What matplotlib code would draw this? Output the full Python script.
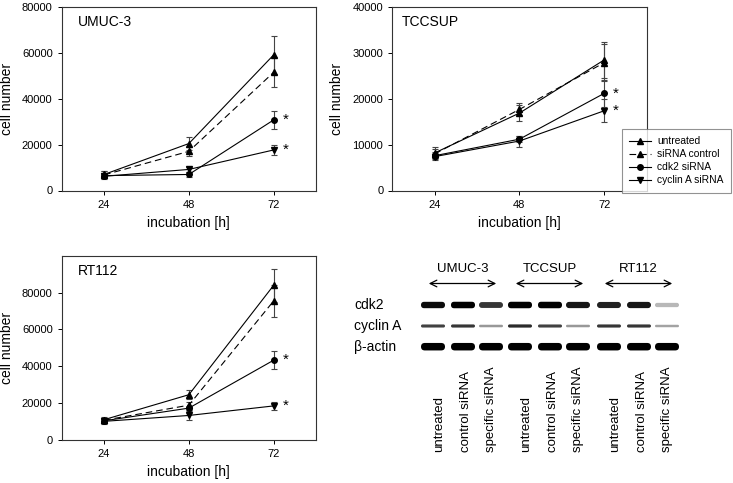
import matplotlib
matplotlib.use("Agg")
import matplotlib.pyplot as plt
from matplotlib.patches import FancyBboxPatch

plt.rcParams['font.family'] = ['Liberation Sans', 'DejaVu Sans']

hours = [24, 48, 72]
series_names = ['untreated', 'siRNA control', 'cdk2 siRNA', 'cyclin A siRNA']

# UMUC-3
umuc_untreated = [7000, 20500, 59200]
umuc_untreated_err = [1500, 3000, 8200]
umuc_control = [6800, 17100, 51600]
umuc_control_err = [1500, 2000, 6500]
umuc_cdk2 = [6500, 7000, 30800]
umuc_cdk2_err = [1000, 1000, 3800]
umuc_cycA = [6200, 9200, 17700]
umuc_cycA_err = [1000, 1200, 2000]

# TCCSUP
tcc_untreated = [8200, 16900, 28500]
tcc_untreated_err = [1200, 1800, 3900]
tcc_control = [8000, 17700, 27900]
tcc_control_err = [1000, 1300, 4000]
tcc_cdk2 = [7600, 11200, 21200]
tcc_cdk2_err = [800, 700, 2900]
tcc_cycA = [7400, 10800, 17400]
tcc_cycA_err = [800, 1200, 2500]

# RT112
rt_untreated = [10800, 24400, 84000]
rt_untreated_err = [1500, 2500, 9000]
rt_control = [10500, 18700, 75500]
rt_control_err = [1200, 1500, 8500]
rt_cdk2 = [10200, 17100, 43200]
rt_cdk2_err = [1000, 1200, 5000]
rt_cycA = [9900, 13100, 18300]
rt_cycA_err = [1500, 2500, 2000]

# western blot
cell_lines = ['UMUC-3', 'TCCSUP', 'RT112']
lane_names = ['untreated', 'control siRNA', 'specific siRNA']
blot_rows = ['cdk2', 'cyclin A', 'β-actin']
cdk2_band = [0.95, 1.0, 0.75, 1.0, 1.0, 0.9, 0.85, 0.9, 0.15]
cycA_band = [0.7, 0.75, 0.3, 0.8, 0.7, 0.3, 0.75, 0.75, 0.25]
actin_band = [1.0, 1.0, 1.0, 1.0, 1.0, 1.0, 1.0, 1.0, 1.0]

W, H = 733, 483
fig = plt.figure(figsize=(W / 100, H / 100), dpi=100)

styles = [('-', '^'), ('--', '^'), ('-', 'o'), ('-', 'v')]


def panel(rect, title, data, ymax, ticks):
    ax = fig.add_axes([rect[0] / W, 1 - rect[3] / H, (rect[2] - rect[0]) / W, (rect[3] - rect[1]) / H])
    handles = []
    for (vals, errs), (ls, mk), name in zip(data, styles, series_names):
        ax.errorbar(hours, vals, yerr=errs, fmt='none', ecolor='#444444', elinewidth=0.8,
                    capsize=2.5, capthick=0.8, zorder=2)
        h, = ax.plot(hours, vals, linestyle=ls, marker=mk, color='black', lw=0.8,
                     markersize=4, label=name, zorder=3)
        if ls == '--':
            h.set_dashes((6, 3.5))
        handles.append(h)
    for vals in (data[2][0], data[3][0]):
        ax.text(72 + 3.3, vals[-1], '*', fontsize=11, ha='center', va='center')
    ax.set_xlim(12, 84)
    ax.set_ylim(0, ymax)
    ax.set_xticks(hours)
    ax.set_yticks(ticks)
    ax.tick_params(direction='out', length=3, width=0.7, labelsize=8)
    for s in ax.spines.values():
        s.set_linewidth(0.8)
        s.set_color('#333333')
    ax.set_ylabel('cell number', fontsize=10, labelpad=6)
    ax.set_xlabel('incubation [h]', fontsize=10, labelpad=5)
    ax.text(0.063 if title != 'TCCSUP' else 0.037, 0.92, title, transform=ax.transAxes,
            fontsize=10, va='center', ha='left')
    return handles


panel((61.7, 7.3, 316, 190.5), 'UMUC-3',
      [(umuc_untreated, umuc_untreated_err), (umuc_control, umuc_control_err),
       (umuc_cdk2, umuc_cdk2_err), (umuc_cycA, umuc_cycA_err)],
      80000, range(0, 80001, 20000))
handles = panel((392.3, 7.3, 646.5, 190.5), 'TCCSUP',
                [(tcc_untreated, tcc_untreated_err), (tcc_control, tcc_control_err),
                 (tcc_cdk2, tcc_cdk2_err), (tcc_cycA, tcc_cycA_err)],
                40000, range(0, 40001, 10000))
panel((61.7, 256, 316, 439.5), 'RT112',
      [(rt_untreated, rt_untreated_err), (rt_control, rt_control_err),
       (rt_cdk2, rt_cdk2_err), (rt_cycA, rt_cycA_err)],
      100000, range(0, 80001, 20000))

leg = fig.legend(handles=handles, loc='upper left', bbox_to_anchor=(622 / W, 1 - 129 / H),
                 fontsize=7.4, frameon=True, fancybox=False, handlelength=2.1,
                 borderpad=0.7, labelspacing=0.3, handletextpad=0.6, borderaxespad=0)
leg.get_frame().set_edgecolor('#777777')
leg.get_frame().set_linewidth(0.8)

# western blot drawn in pixel coordinates
bx = fig.add_axes([0, 0, 1, 1], zorder=-1)
bx.set_xlim(0, W)
bx.set_ylim(H, 0)
bx.axis('off')

group_x = [433, 520, 609]
lane_off = [0, 30, 58]
lane_x = [g + o for g in group_x for o in lane_off]
row_y = [305, 326, 346.7]
row_h = [6.5, 3.5, 7.5]
for r, (bands, y, hgt) in enumerate(zip([cdk2_band, cycA_band, actin_band], row_y, row_h)):
    bx.text(354, y, blot_rows[r], fontsize=10, ha='left', va='center')
    for x, v in zip(lane_x, bands):
        h = hgt * (0.6 + 0.4 * v)
        p = FancyBboxPatch((x - 12, y - h / 2), 24, h, boxstyle='round,pad=0,rounding_size=%.1f' % (h / 2),
                           facecolor='black', edgecolor='none', alpha=0.15 + 0.85 * v)
        bx.add_patch(p)

for g, name in enumerate(cell_lines):
    x0 = group_x[g] - 7
    x1 = group_x[g] + lane_off[2] + 8
    bx.text((x0 + x1) / 2, 269.5, name, fontsize=9.5, ha='center', va='center')
    bx.annotate('', xy=(x0, 283.5), xytext=(x1, 283.5),
                arrowprops=dict(arrowstyle='<->', lw=0.9, color='black', mutation_scale=12))

for i, x in enumerate(lane_x):
    bx.text(x + 6 - 3 * (i % 3), 452, lane_names[i % 3], fontsize=9.5, rotation=90,
            ha='center', va='bottom')

fig.savefig('out.png', dpi=100)
